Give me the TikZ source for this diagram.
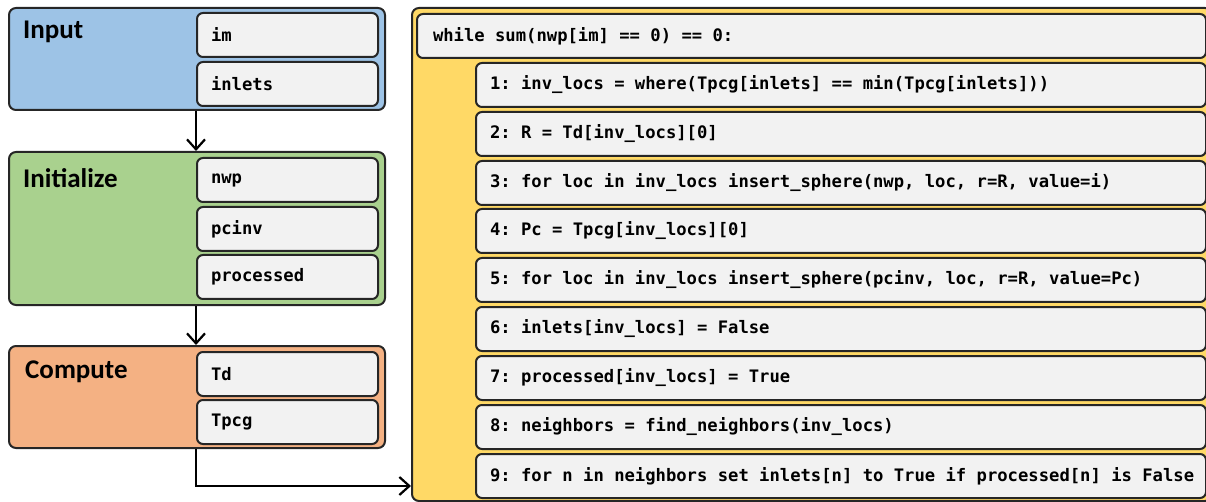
\documentclass[tikz,border=0pt]{standalone}
\usepackage{fontspec}
\setmainfont{Carlito}
\setmonofont{DejaVu Sans Mono}
\usetikzlibrary{arrows.meta}
\definecolor{edge}{HTML}{262626}
\definecolor{cinput}{HTML}{9DC3E6}
\definecolor{cinit}{HTML}{A9D18E}
\definecolor{ccomp}{HTML}{F4B183}
\definecolor{cloop}{HTML}{FFD966}
\definecolor{citem}{HTML}{F2F2F2}
\newcommand\codeln[1]{\spaceskip=0pt\relax\xspaceskip=0pt\relax\mbox{#1}}
\begin{document}
\begin{tikzpicture}[x=1pt,y=-1pt,
  group/.style={draw=edge, line width=2pt, rounded corners=7pt, anchor=north west, inner sep=0pt},
  item/.style={draw=edge, fill=citem, line width=2pt, rounded corners=6pt, anchor=north west,
    minimum height=44pt, inner xsep=14pt, inner ysep=0pt, align=left,
    font=\ttfamily\bfseries\fontsize{17.2}{21}\selectfont},
  lefti/.style={item, text width=153pt},
  stepi/.style={item, text width=702pt},
  head/.style={anchor=west, font=\bfseries\fontsize{27}{31}\selectfont, inner sep=0pt},
  arr/.style={draw=black, line width=2.2pt, -{Straight Barb[length=10pt,width=18pt,line width=2.2pt]}}
]
\useasboundingbox (0,0) rectangle (1206,502);
\clip (0,0) rectangle (1206,502);

% left groups
\node[group, fill=cinput, minimum width=376pt, minimum height=102pt] (input) at (8,7) {};
\node[group, fill=cinit, minimum width=376pt, minimum height=153pt] (init) at (8,151) {};
\node[group, fill=ccomp, minimum width=376pt, minimum height=102pt] (comp) at (8,345) {};

\node[head] (hinput) at (23,32) {Input};
\node[head] (hinit) at (23,178) {Initialize};
\node[head] (hcomp) at (25,372) {Compute};

\node[lefti] (im) at (196,12) {im};
\node[lefti] (inlets) at (196,61) {inlets};
\node[lefti] (nwp) at (196,157) {nwp};
\node[lefti] (pcinv) at (196,206) {pcinv};
\node[lefti] (processed) at (196,254) {processed};
\node[lefti] (td) at (196,351) {Td};
\node[lefti] (tpcg) at (196,399) {Tpcg};

% loop group
\node[group, fill=cloop, minimum width=800pt, minimum height=493pt] (loop) at (411,7) {};
\node[item, text width=757pt, inner xsep=16pt] (while) at (416,13) {\codeln{while sum(nwp[im] == 0) == 0:}};
\node[stepi] (s1) at (475,62) {\codeln{1: inv\_locs = where(Tpcg[inlets] == min(Tpcg[inlets]))}};
\node[stepi] (s2) at (475,111) {\codeln{2: R = Td[inv\_locs][0]}};
\node[stepi] (s3) at (475,160) {\codeln{3: for loc in inv\_locs insert\_sphere(nwp, loc, r=R, value=i)}};
\node[stepi] (s4) at (475,208) {\codeln{4: Pc = Tpcg[inv\_locs][0]}};
\node[stepi] (s5) at (475,257) {\codeln{5: for loc in inv\_locs insert\_sphere(pcinv, loc, r=R, value=Pc)}};
\node[stepi] (s6) at (475,306) {\codeln{6: inlets[inv\_locs] = False}};
\node[stepi] (s7) at (475,355) {\codeln{7: processed[inv\_locs] = True}};
\node[stepi] (s8) at (475,404) {\codeln{8: neighbors = find\_neighbors(inv\_locs)}};
\node[stepi] (s9) at (475,453) {\codeln{9: for n in neighbors set inlets[n] to True if processed[n] is False}};

% connectors
\draw[arr] (input.south -| im.west) -- (init.north -| im.west);
\draw[arr] (init.south -| nwp.west) -- (comp.north -| nwp.west);
\coordinate (entry) at ([yshift=16pt]loop.south west);
\draw[arr] (comp.south -| td.west) |- (entry);
\end{tikzpicture}
\end{document}
